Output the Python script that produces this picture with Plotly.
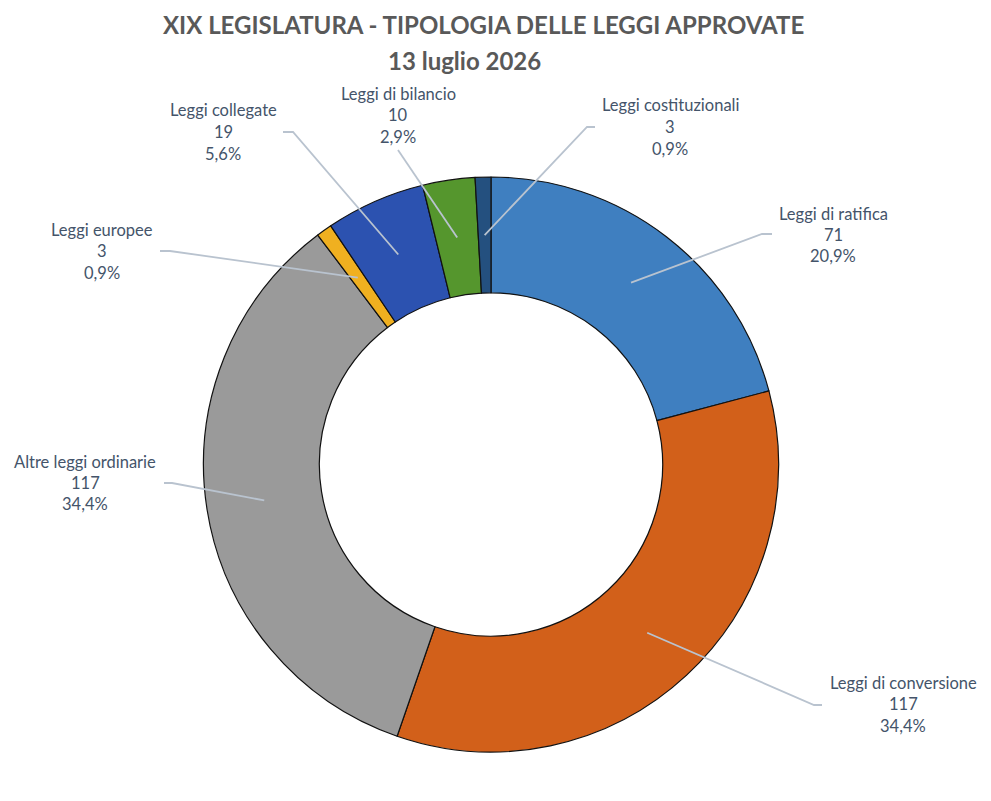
import math
import plotly.graph_objects as go

# dati
categorie = ['Leggi di ratifica', 'Leggi di conversione', 'Altre leggi ordinarie',
             'Leggi europee', 'Leggi collegate', 'Leggi di bilancio', 'Leggi costituzionali']
valori = [71, 117, 117, 3, 19, 10, 3]
colori = ['#3f7fc0', '#d2601a', '#9a9a9a', '#f0b020', '#2c52b0', '#55962d', '#24507f']

titolo = 'XIX LEGISLATURA - TIPOLOGIA DELLE LEGGI APPROVATE'
sottotitolo = '13 luglio 2026'

W, H = 991, 801
OFF = 8  # margine del body html
CX, CY, R = 491, 464.5, 287.5
HOLE = 0.597

# posizione etichette (pixel): centro testo, punti della linea guida prima della punta
etichette = [
    dict(x=833, y=235, linea=[(772, 234), (762, 234)]),
    dict(x=903, y=704, linea=[(822, 705), (814, 705)]),
    dict(x=85, y=483, linea=[(164, 483), (172, 483)]),
    dict(x=102, y=251, linea=[(160, 251), (170, 251)]),
    dict(x=223, y=132, linea=[(283, 132), (293, 132)]),
    dict(x=398, y=115, linea=[(398, 150)]),
    dict(x=670, y=127, linea=[(595, 127), (587, 127)]),
]

def px(x):
    return (x - OFF) / W

def py(y):
    return 1 - (y - OFF) / H

fig = go.Figure()

fig.add_trace(go.Pie(
    labels=categorie,
    values=valori,
    hole=HOLE,
    sort=False,
    direction='clockwise',
    rotation=0,
    textinfo='none',
    marker=dict(colors=colori, line=dict(color='#111111', width=1.2)),
    domain=dict(x=[px(CX - R), px(CX + R)], y=[py(CY + R), py(CY - R)]),
    showlegend=False,
))

totale = sum(valori)
shapes = []
annotations = []
testo_col = '#44546a'
cum = 0
rm = R * (1 + HOLE) / 2
for nome, v, et in zip(categorie, valori, etichette):
    ang = (cum + v / 2) / totale * 2 * math.pi
    cum += v
    tx = CX + rm * math.sin(ang)
    ty = CY - rm * math.cos(ang)
    punti = et['linea'] + [(tx, ty)]
    path = 'M ' + ' L '.join(f'{px(a):.5f},{py(b):.5f}' for a, b in punti)
    shapes.append(dict(type='path', path=path, xref='paper', yref='paper',
                       line=dict(color='#b9c3cf', width=1.8), layer='above'))
    perc = f'{v / totale * 100:.1f}'.replace('.', ',') + '%'
    for k, riga in enumerate([nome, str(v), perc]):
        annotations.append(dict(
            x=px(et['x']), y=py(et['y'] + (k - 1) * 21.5), xref='paper', yref='paper',
            text=riga, showarrow=False, xanchor='center', yanchor='middle',
            font=dict(family='Lato', size=16.5, color=testo_col)))

annotations.append(dict(x=px(483), y=py(24), xref='paper', yref='paper', text=f'<b>{titolo}</b>',
                        showarrow=False, xanchor='center', yanchor='middle',
                        font=dict(family='Lato', size=24, color='#595959')))
annotations.append(dict(x=px(464), y=py(61), xref='paper', yref='paper', text=f'<b>{sottotitolo}</b>',
                        showarrow=False, xanchor='center', yanchor='middle',
                        font=dict(family='Lato', size=24, color='#595959')))

fig.update_layout(
    width=W, height=H,
    margin=dict(l=0, r=0, t=0, b=0),
    paper_bgcolor='white',
    plot_bgcolor='white',
    shapes=shapes,
    annotations=annotations,
)

fig.write_html('out.html')
